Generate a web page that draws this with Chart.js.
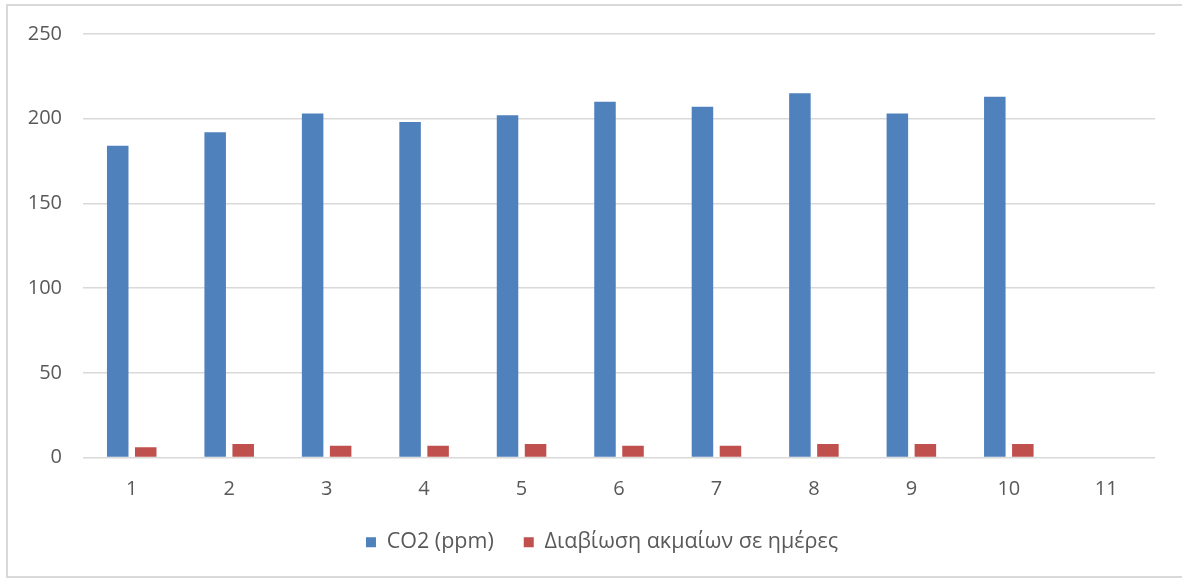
<!DOCTYPE html>
<html>
<head>
<meta charset="utf-8">
<script src="https://cdn.jsdelivr.net/npm/chart.js@4.4.1/dist/chart.umd.min.js"></script>
<style>
  html, body { margin: 0; padding: 0; background: #ffffff; }
  #wrap { position: relative; width: 1182px; height: 581px; overflow: hidden; }
  #frame { position: absolute; left: 6px; top: 4px; width: 1180px; height: 574px;
           border: 2px solid #d9d9d9; box-sizing: border-box; }
  canvas { position: absolute; left: 0; top: 0; }
</style>
</head>
<body>
<div id="wrap">
  <div id="frame"></div>
  <canvas id="c" width="1182" height="581"></canvas>
</div>
<script>
const categories = ["1", "2", "3", "4", "5", "6", "7", "8", "9", "10", "11"];
const co2Values = [184, 192, 203, 198, 202, 210, 207, 215, 203, 213, null];
const survivalValues = [6, 8, 7, 7, 8, 7, 7, 8, 8, 8, null];
const yTicks = [0, 50, 100, 150, 200, 250];
const seriesNames = ["CO2 (ppm)", "Διαβίωση ακμαίων σε ημέρες"];

const FONT = "'Open Sans', 'Noto Sans', sans-serif";
const TEXT = '#595959';

// shift the legend so that it is centred under the plot area
const legendShift = {
  id: 'legendShift',
  afterLayout(chart) {
    const lg = chart.legend;
    if (lg) { lg.left = chart.chartArea.left - 34; }
  }
};

new Chart(document.getElementById('c'), {
  type: 'bar',
  data: {
    labels: categories,
    datasets: [
      { label: seriesNames[0], data: co2Values, backgroundColor: '#4F81BD',
        categoryPercentage: 0.575, barPercentage: 0.768 },
      { label: seriesNames[1], data: survivalValues, backgroundColor: '#C0504D',
        categoryPercentage: 0.575, barPercentage: 0.768 }
    ]
  },
  plugins: [legendShift],
  options: {
    responsive: false,
    animation: false,
    layout: { padding: { left: 0, right: 27, top: 34, bottom: 18 } },
    plugins: {
      tooltip: { enabled: false },
      legend: {
        position: 'bottom',
        labels: {
          boxWidth: 10, boxHeight: 10, padding: 30,
          color: TEXT, font: { family: FONT, size: 21.5 }
        }
      }
    },
    scales: {
      x: {
        grid: { display: false, drawTicks: false },
        border: { display: false },
        ticks: { color: TEXT, font: { family: FONT, size: 20 }, padding: 20, maxRotation: 0 },
        afterFit: (s) => { s.height = 44; }
      },
      y: {
        min: 0, max: 250,
        afterBuildTicks: (s) => { s.ticks = yTicks.map(v => ({ value: v })); },
        grid: { color: '#d9d9d9', lineWidth: 1.5, drawTicks: false },
        border: { display: false },
        ticks: { color: TEXT, font: { family: FONT, size: 20 }, padding: 21 },
        afterFit: (s) => { s.width = 83; }
      }
    }
  }
});
</script>
</body>
</html>
